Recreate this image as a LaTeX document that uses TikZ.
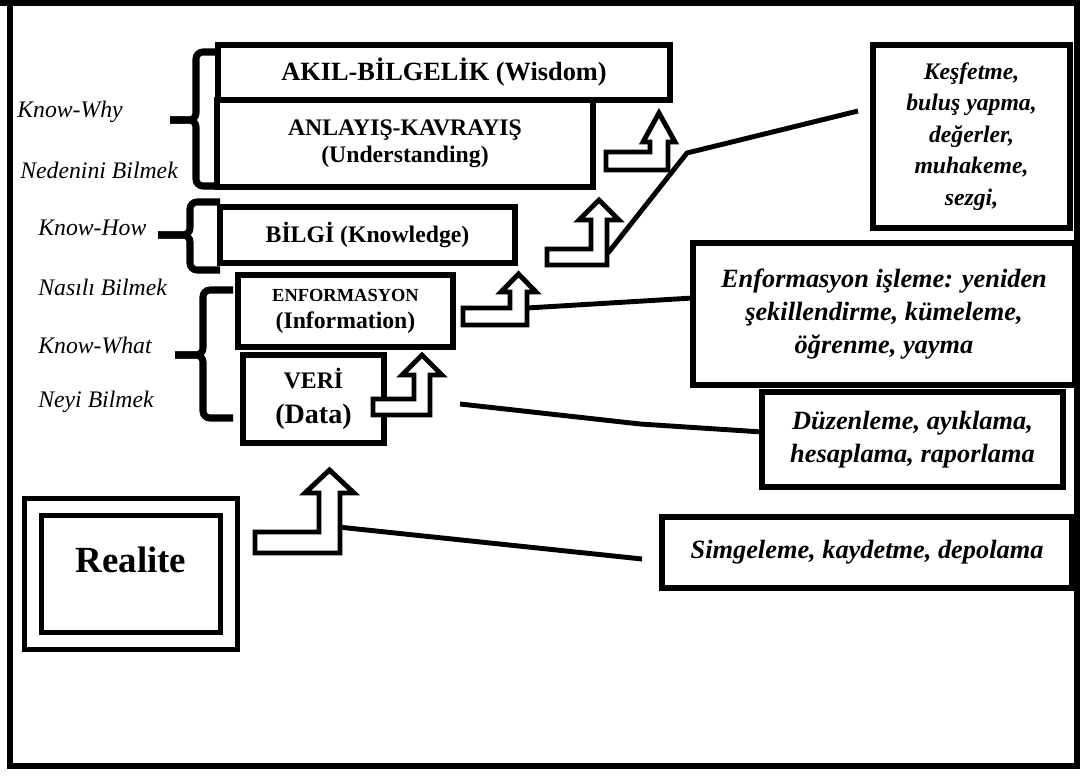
\documentclass[tikz,border=0pt]{standalone}
\usepackage{fontspec}
\setmainfont{Liberation Serif}

% bent block arrow: left, bottom, length, thickness, head base, tip, overhang
\newcommand{\liftarrow}[7]{%
\draw[blockarrow] (#1,#2) -- ++(#3,0) -- ++(0,-#5) -- ++(#7,0)
  -- ++({-#7-#4/2},{-(#6-#5)}) -- ++({-#4/2-#7},{#6-#5}) -- ++(#7,0)
  -- ++(0,{#5-#4}) -- ++({-(#3-#4)},0) -- cycle;}

\tikzset{
  box/.style={draw,line width=3pt,align=center,inner sep=0pt},
  note/.style={draw,line width=3pt,align=center,inner sep=0pt},
  realbox/.style={draw,line width=3pt,double,double distance=6.6pt,inner sep=0pt},
  side/.style={anchor=west,inner sep=0pt,font=\fontsize{13.5}{16}\selectfont\itshape},
  callout/.style={line width=2.8pt},
  blockarrow/.style={draw,fill=white,line width=2.8pt,line join=miter},
  bracebar/.style={line width=4pt,rounded corners=4pt},
  frame/.style={line width=3.4pt}
}

\begin{document}
\begin{tikzpicture}[x=0.02cm,y=-0.02cm]
\useasboundingbox (0,0) rectangle (1083,776);
\draw[frame] (0,3) -- (1077,3) -- (1077,766) -- (10,766) -- (10,3);

% pyramid
\node[box,minimum width=9.04cm,minimum height=1.1cm,font=\fontsize{15}{18}\selectfont\bfseries]
  (wisdom) at (444,72.5) {AKIL-BİLGELİK (Wisdom)};
\node[box,minimum width=7.52cm,minimum height=1.74cm,font=\fontsize{13.5}{15.3}\selectfont\bfseries]
  (underst) at (405,143.5) {ANLAYIŞ-KAVRAYIŞ\\(Understanding)};
\node[box,minimum width=5.9cm,minimum height=1.12cm,font=\fontsize{13.5}{16}\selectfont\bfseries]
  (knowl) at (367.5,235) {BİLGİ (Knowledge)};
\node[box,minimum width=4.3cm,minimum height=1.44cm,font=\fontsize{13.5}{15.3}\selectfont\bfseries]
  (inform) at (345.5,311) {{\fontsize{10.5}{12}\selectfont ENFORMASYON}\\(Information)};
\node[box,minimum width=2.82cm,minimum height=1.76cm,font=\fontsize{13.5}{20}\selectfont\bfseries]
  (data) at (313.5,399) {VERİ\\{\fontsize{16}{20}\selectfont (Data)}};
\node[realbox,minimum width=3.93cm,minimum height=2.67cm] (realite) at (131,574) {};
\node[font=\fontsize{21}{24}\selectfont\bfseries] (realitetxt) at (131,560) {Realite};

% notes
\node[note,minimum width=3.94cm,minimum height=3.66cm,font=\fontsize{13.5}{18}\selectfont\bfseries\itshape]
  (kesif) at (971.5,136.5) {Keşfetme,\\buluş yapma,\\değerler,\\muhakeme,\\sezgi,};
\node[note,minimum width=7.64cm,minimum height=2.84cm,font=\fontsize{15}{18.7}\selectfont\bfseries\itshape]
  (enfis) at (884,314) {Enformasyon işleme: yeniden\\şekillendirme, kümeleme,\\öğrenme, yayma};
\node[note,minimum width=6.02cm,minimum height=1.9cm,font=\fontsize{15}{18.7}\selectfont\bfseries\itshape]
  (duzen) at (912.5,439.5) {Düzenleme, ayıklama,\\hesaplama, raporlama};
\node[note,minimum width=8.2cm,minimum height=1.42cm,font=\fontsize{15}{18}\selectfont\bfseries\itshape]
  (simge) at (867,552.5) {Simgeleme, kaydetme, depolama};

% left labels
\node[side] (why) at (17,112) {Know-Why};
\node[side] (neden) at (20,170) {Nedenini Bilmek};
\node[side] (how) at (38,228) {Know-How};
\node[side] (nasil) at (38,287) {Nasılı Bilmek};
\node[side] (what) at (38,345) {Know-What};
\node[side] (neyi) at (38,402) {Neyi Bilmek};

% braces
\draw[bracebar] (217,52) -- (196,52) -- (196,120) -- (170,120);
\draw[bracebar] (170,120) -- (196,120) -- (196,186) -- (217,186);
\draw[bracebar] (220,202) -- (190,202) -- (190,235) -- (158,235);
\draw[bracebar] (158,235) -- (190,235) -- (190,270) -- (220,270);
\draw[bracebar] (233,290) -- (203,290) -- (203,355) -- (175,355);
\draw[bracebar] (175,355) -- (203,355) -- (203,418) -- (233,418);

% callout lines
\coordinate (kesfA) at (608,253);
\coordinate (kesfB) at (687,153);
\coordinate (kesfC) at (858,111);
\coordinate (enfA) at (527,308);
\coordinate (enfB) at (693,298);
\coordinate (duzA) at (460,404);
\coordinate (duzB) at (640,424);
\coordinate (duzC) at (762,432);
\coordinate (simA) at (338,527);
\coordinate (simB) at (642,559);
\draw[callout] (kesfA) -- (kesfB) -- (kesfC);
\draw[callout] (enfA) -- (enfB);
\draw[callout] (duzA) -- (duzB) -- (duzC);
\draw[callout] (simA) -- (simB);

% arrows
\liftarrow{606}{170}{62}{18}{28}{57}{7}
\liftarrow{547}{265}{60}{16}{45}{65}{12}
\liftarrow{463}{325}{64}{17}{33}{51}{9}
\liftarrow{373}{415}{57}{16}{40}{60}{12}
\liftarrow{255}{553}{85}{21}{60}{83}{14}
\end{tikzpicture}
\end{document}
